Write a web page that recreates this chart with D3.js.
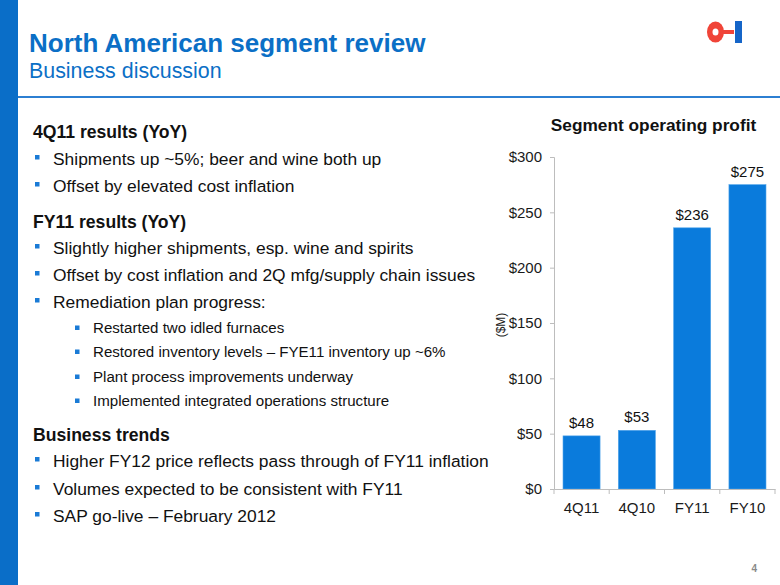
<!DOCTYPE html>
<html><head><meta charset="utf-8">
<script src="https://cdn.jsdelivr.net/npm/d3@7"></script>
<style>
html,body{margin:0;padding:0;background:#fff;}
svg{display:block;font-family:"Liberation Sans",Arial,sans-serif;}
</style></head>
<body>
<svg id="c" width="780" height="585"></svg>
<script>
// ---- data ----
const categories = ["4Q11", "4Q10", "FY11", "FY10"];
const profitValues = [48, 53, 236, 275];
const valueLabels = ["$48", "$53", "$236", "$275"];
const yTicks = [0, 50, 100, 150, 200, 250, 300];
const titleText = "North American segment review";
const subtitleText = "Business discussion";
const chartTitle = "Segment operating profit";
const unitLabel = "($M)";
const pageNumber = "4";
const textLines = [
  {t:"h", s:"4Q11 results (YoY)"},
  {t:"b", s:"Shipments up ~5%; beer and wine both up"},
  {t:"b", s:"Offset by elevated cost inflation"},
  {t:"h", s:"FY11 results (YoY)"},
  {t:"b", s:"Slightly higher shipments, esp. wine and spirits"},
  {t:"b", s:"Offset by cost inflation and 2Q mfg/supply chain issues"},
  {t:"b", s:"Remediation plan progress:"},
  {t:"s", s:"Restarted two idled furnaces"},
  {t:"s", s:"Restored inventory levels \u2013 FYE11 inventory up ~6%"},
  {t:"s", s:"Plant process improvements underway"},
  {t:"s", s:"Implemented integrated operations structure"},
  {t:"h", s:"Business trends"},
  {t:"b", s:"Higher FY12 price reflects pass through of FY11 inflation"},
  {t:"b", s:"Volumes expected to be consistent with FY11"},
  {t:"b", s:"SAP go-live \u2013 February 2012"}
];
const lineBaselines = [138,165,192,228,254,281,308,333,357,382,406,441,467,495,522];

// ---- page frame ----
const svg = d3.select("#c");
const blue = "#0B6FC6";
svg.append("rect").attr("x",0).attr("y",0).attr("width",18).attr("height",585).attr("fill","#0A6EC8");
svg.append("rect").attr("x",18).attr("y",96).attr("width",762).attr("height",2).attr("fill","#2C7FD2");
svg.append("text").attr("x",29).attr("y",52).attr("font-size",26).attr("font-weight","bold")
  .attr("fill",blue).text(titleText);
svg.append("text").attr("x",29).attr("y",78).attr("font-size",21.4).attr("fill",blue).text(subtitleText);

// logo
const logo = svg.append("g");
logo.append("ellipse").attr("cx",715.5).attr("cy",32).attr("rx",8.5).attr("ry",10.5).attr("fill","#F04438");
logo.append("ellipse").attr("cx",715.5).attr("cy",32).attr("rx",3).attr("ry",3.5).attr("fill","#fff");
logo.append("rect").attr("x",722).attr("y",30).attr("width",12).attr("height",4).attr("fill","#F04438");
logo.append("rect").attr("x",735).attr("y",21).attr("width",7).attr("height",22).attr("fill","#1565C8");

svg.append("text").attr("x",757).attr("y",572).attr("text-anchor","end").attr("font-size",10)
  .attr("font-weight","bold").attr("fill","#8a8a8a").text(pageNumber);

// ---- left text ----
const tg = svg.append("g");
textLines.forEach((d,i)=>{
  const y = lineBaselines[i];
  if(d.t==="h"){
    tg.append("text").attr("x",33).attr("y",y).attr("font-size",17.6).attr("font-weight","bold").attr("fill","#111").text(d.s);
  } else if(d.t==="b"){
    tg.append("rect").attr("x",35).attr("y",y-10).attr("width",4.5).attr("height",4.5).attr("fill","#1A7BD6");
    tg.append("text").attr("x",53).attr("y",y).attr("font-size",17.4).attr("fill","#111").text(d.s);
  } else {
    tg.append("rect").attr("x",75).attr("y",y-7.5).attr("width",4.5).attr("height",4.5).attr("fill","#1A7BD6");
    tg.append("text").attr("x",93).attr("y",y).attr("font-size",15.1).attr("fill","#111").text(d.s);
  }
});

// ---- chart ----
const x = d3.scaleBand().domain(categories).range([554,775]).paddingInner(0.33).paddingOuter(0.163);
const y = d3.scaleLinear().domain([0,300]).range([489,157]);

svg.append("text").attr("x",653.5).attr("y",131).attr("text-anchor","middle").attr("font-size",17.3)
  .attr("font-weight","bold").attr("fill","#111").text(chartTitle);

svg.append("g").selectAll("rect").data(profitValues).join("rect")
  .attr("x",(d,i)=>x(categories[i])).attr("width",x.bandwidth())
  .attr("y",d=>y(d)).attr("height",d=>y(0)-y(d))
  .attr("fill","#0A7BDC").attr("stroke","#4FA3EA").attr("stroke-width",0.6);

svg.append("g").selectAll("text").data(profitValues).join("text")
  .attr("x",(d,i)=>x(categories[i])+x.bandwidth()/2).attr("y",d=>y(d)-8)
  .attr("text-anchor","middle").attr("font-size",15).attr("fill","#111")
  .text((d,i)=>valueLabels[i]);

const axisColor = "#BDBDBD";
const yAxis = svg.append("g").attr("transform","translate(554,0)")
  .call(d3.axisLeft(y).tickValues(yTicks).tickFormat(d=>"$"+d).tickSize(4).tickPadding(8));
yAxis.select(".domain").attr("stroke",axisColor);
yAxis.selectAll(".tick line").attr("stroke",axisColor);
yAxis.selectAll(".tick text").attr("font-size",15).attr("fill","#1a1a1a").attr("font-family","Liberation Sans, Arial, sans-serif");

const xAxis = svg.append("g").attr("transform","translate(0,489)")
  .call(d3.axisBottom(x).tickSize(0).tickPadding(13));
xAxis.select(".domain").attr("stroke",axisColor);
xAxis.selectAll(".tick text").attr("font-size",15).attr("fill","#1a1a1a").attr("font-family","Liberation Sans, Arial, sans-serif");
// boundary tick marks between categories
const bounds = categories.map(c=>x(c) - x.step()*x.paddingInner()/2).concat([775]);
bounds[0] = 554;
xAxis.selectAll(".bound").data(bounds).join("line").attr("class","bound")
  .attr("x1",d=>d).attr("x2",d=>d).attr("y1",0).attr("y2",5).attr("stroke",axisColor);

svg.append("text").attr("transform","translate(505,325) rotate(-90)").attr("text-anchor","middle")
  .attr("font-size",12).attr("fill","#1a1a1a").text(unitLabel);
</script>
</body></html>
